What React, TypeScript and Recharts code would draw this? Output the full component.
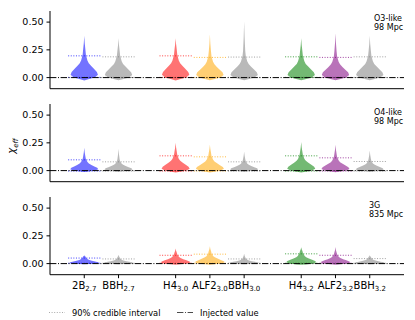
import { ComposedChart, Scatter, XAxis, YAxis } from "recharts";

const POSITIONS = [1, 2, 3.667, 4.667, 5.667, 7.333, 8.333, 9.333];
const X_MAX = 10.333;
const LABEL_MAIN = ["2B", "BBH", "H4", "ALF2", "BBH", "H4", "ALF2", "BBH"];
const LABEL_SUB = ["2.7", "2.7", "3.0", "3.0", "3.0", "3.2", "3.2", "3.2"];
const COLORS = ["#0000ff", "#808080", "#ff0000", "#ffa500", "#808080", "#008000", "#800080", "#808080"];

// violin body read off the O3 blue one: height as fraction of the 90% upper bound,
// width as fraction of the widest point
const PROFILE_T = [-0.13, -0.08, 0, 0.13, 0.26, 0.39, 0.53, 0.66, 0.79, 1.05, 1.3];
const PROFILE_W = [0, 0.3, 0.77, 1.0, 0.92, 0.72, 0.51, 0.33, 0.23, 0.12, 0.08];
// thin needle from the end of the body up to the max sample
const NEEDLE_F = [0.45, 1];
const NEEDLE_W = [0.014, 0];

const TOP_O3 = [0.378, 0.355, 0.355, 0.39, 0.505, 0.355, 0.4, 0.378];
const UP_O3 = [0.196, 0.187, 0.196, 0.182, 0.185, 0.187, 0.182, 0.187];
const LOW_O3 = [0.002, 0.002, 0.002, 0.002, 0.002, 0.002, 0.002, 0.002];

const TOP_O4 = [0.206, 0.197, 0.25, 0.233, 0.17, 0.257, 0.233, 0.18];
const UP_O4 = [0.097, 0.079, 0.133, 0.124, 0.079, 0.133, 0.115, 0.082];
const LOW_O4 = [-0.004, -0.004, -0.004, -0.004, -0.004, -0.004, -0.004, -0.004];

const TOP_3G = [0.075, 0.08, 0.136, 0.157, 0.088, 0.148, 0.15, 0.075];
const UP_3G = [0.05, 0.042, 0.075, 0.085, 0.042, 0.088, 0.075, 0.045];
const LOW_3G = [0.003, 0.003, 0.003, 0.003, 0.003, 0.003, 0.003, 0.003];

const Y_TICKS = [0, 0.25, 0.5];

const PANELS = [
  { top: TOP_O3, up: UP_O3, low: LOW_O3, maxW: 0.4, lines: ["O3-like", "98 Mpc"], textX: 374, textY: 20.5 },
  { top: TOP_O4, up: UP_O4, low: LOW_O4, maxW: 0.41, lines: ["O4-like", "98 Mpc"], textX: 374, textY: 114.5 },
  { top: TOP_3G, up: UP_3G, low: LOW_3G, maxW: 0.44, lines: ["3G", "835 Mpc"], textX: 369, textY: 207.5 }
];

const FONT = "'DejaVu Sans', sans-serif";
const CI_HALF = 0.47;

function outline(pos: number, up: number, top: number, maxW: number) {
  const right = PROFILE_T.map((t, i) => ({ x: pos + PROFILE_W[i] * maxW, y: t * up }));
  const yEnd = PROFILE_T[PROFILE_T.length - 1] * up;
  NEEDLE_F.forEach((f, i) => right.push({ x: pos + NEEDLE_W[i], y: yEnd + f * (top - yEnd) }));
  const left = right
    .slice()
    .reverse()
    .map((p) => ({ x: 2 * pos - p.x, y: p.y }));
  return [...right, ...left];
}

function toPath(points: { x: number; y: number }[]) {
  return points.map((p, i) => `${i ? "L" : "M"}${p.x},${p.y}`).join(" ");
}

const noDot = () => <g />;

function XTick(props: any) {
  const { x, y, index } = props;
  return (
    <text x={x} y={y + 8.5} textAnchor="middle" fontSize={10} fill="#000" fontFamily={FONT}>
      <tspan>{LABEL_MAIN[index]}</tspan>
      <tspan fontSize={7} dy={2.5}>
        {LABEL_SUB[index]}
      </tspan>
    </text>
  );
}

function Panel({ idx }: { idx: number }) {
  const p = PANELS[idx];
  const plotTop = 10.7 + 93.3 * idx;
  const plotH = 77.7;
  const H = 120;
  const last = idx === PANELS.length - 1;
  return (
    <div style={{ position: "absolute", left: 0, top: plotTop - 10 }}>
      <ComposedChart width={415} height={H} margin={{ top: 10, right: 11, bottom: 0, left: 0 }}>
        <XAxis
          dataKey="x"
          type="number"
          domain={[0, X_MAX]}
          ticks={POSITIONS}
          interval={0}
          allowDataOverflow
          height={H - 10 - plotH}
          stroke="#000"
          tickSize={3.5}
          tickMargin={2}
          tick={last ? <XTick /> : false}
        />
        <XAxis
          xAxisId="t"
          orientation="top"
          type="number"
          domain={[0, X_MAX]}
          height={0}
          stroke="#000"
          tick={false}
          tickLine={false}
        />
        <YAxis
          dataKey="y"
          type="number"
          domain={[-0.1, 0.6]}
          ticks={Y_TICKS}
          allowDataOverflow
          width={50}
          stroke="#000"
          tickSize={3.5}
          tickMargin={3}
          tickFormatter={(v: number) => v.toFixed(2)}
          tick={{ fill: "#000", fontSize: 9.5, fontFamily: FONT }}
        />
        <YAxis
          yAxisId="r"
          orientation="right"
          type="number"
          domain={[-0.1, 0.6]}
          width={0}
          stroke="#000"
          tick={false}
          tickLine={false}
        />
        {POSITIONS.map((pos, i) => (
          <Scatter
            key={`v${i}`}
            data={outline(pos, p.up[i], p.top[i], p.maxW)}
            shape={noDot}
            isAnimationActive={false}
            line={(lp: any) => (
              <path d={toPath(lp.points)} fill={COLORS[i]} fillOpacity={0.55} stroke="none" />
            )}
          />
        ))}
        {POSITIONS.map((pos, i) =>
          [p.up[i], p.low[i]].map((v, j) => (
            <Scatter
              key={`ci${i}-${j}`}
              data={[
                { x: pos - CI_HALF, y: v },
                { x: pos + CI_HALF, y: v }
              ]}
              shape={noDot}
              isAnimationActive={false}
              line={(lp: any) => (
                <path
                  d={toPath(lp.points)}
                  fill="none"
                  stroke={COLORS[i]}
                  strokeOpacity={0.75}
                  strokeWidth={1}
                  strokeDasharray="1 1.6"
                />
              )}
            />
          ))
        )}
        <Scatter
          data={[
            { x: 0, y: 0 },
            { x: X_MAX, y: 0 }
          ]}
          shape={noDot}
          isAnimationActive={false}
          line={(lp: any) => (
            <path d={toPath(lp.points)} fill="none" stroke="#000" strokeWidth={1} strokeDasharray="6.4 1.6 1 1.6" />
          )}
        />
      </ComposedChart>
    </div>
  );
}

export default function App() {
  return (
    <div style={{ position: "absolute", left: 0, top: 0, width: 415, height: 320, fontFamily: FONT, background: "#fff" }}>
      {PANELS.map((_, i) => (
        <Panel key={i} idx={i} />
      ))}
      <svg width={415} height={320} style={{ position: "absolute", left: 0, top: 0, pointerEvents: "none" }}>
        {PANELS.map((p, i) => (
          <text key={i} x={p.textX} y={p.textY} fontSize={8} fill="#000" fontFamily={FONT}>
            <tspan x={p.textX}>{p.lines[0]}</tspan>
            <tspan x={p.textX} dy={9.5}>
              {p.lines[1]}
            </tspan>
          </text>
        ))}
        <text transform="translate(15,146) rotate(-90)" textAnchor="middle" fontSize={10} fill="#000" fontFamily={FONT}>
          <tspan fontStyle="italic">χ</tspan>
          <tspan fontSize={7} dy={2.5} fontStyle="italic">
            eff
          </tspan>
        </text>
        <line x1={49} x2={65} y1={312.5} y2={312.5} stroke="#aaaaaa" strokeWidth={1} strokeDasharray="1 1.6" />
        <text x={72} y={315.5} fontSize={8.3} fill="#000" fontFamily={FONT}>
          90% credible interval
        </text>
        <line x1={177} x2={193} y1={312.5} y2={312.5} stroke="#000" strokeOpacity={0.7} strokeWidth={1} strokeDasharray="6.4 1.6 1 1.6" />
        <text x={200} y={315.5} fontSize={8.3} fill="#000" fontFamily={FONT}>
          Injected value
        </text>
      </svg>
    </div>
  );
}
